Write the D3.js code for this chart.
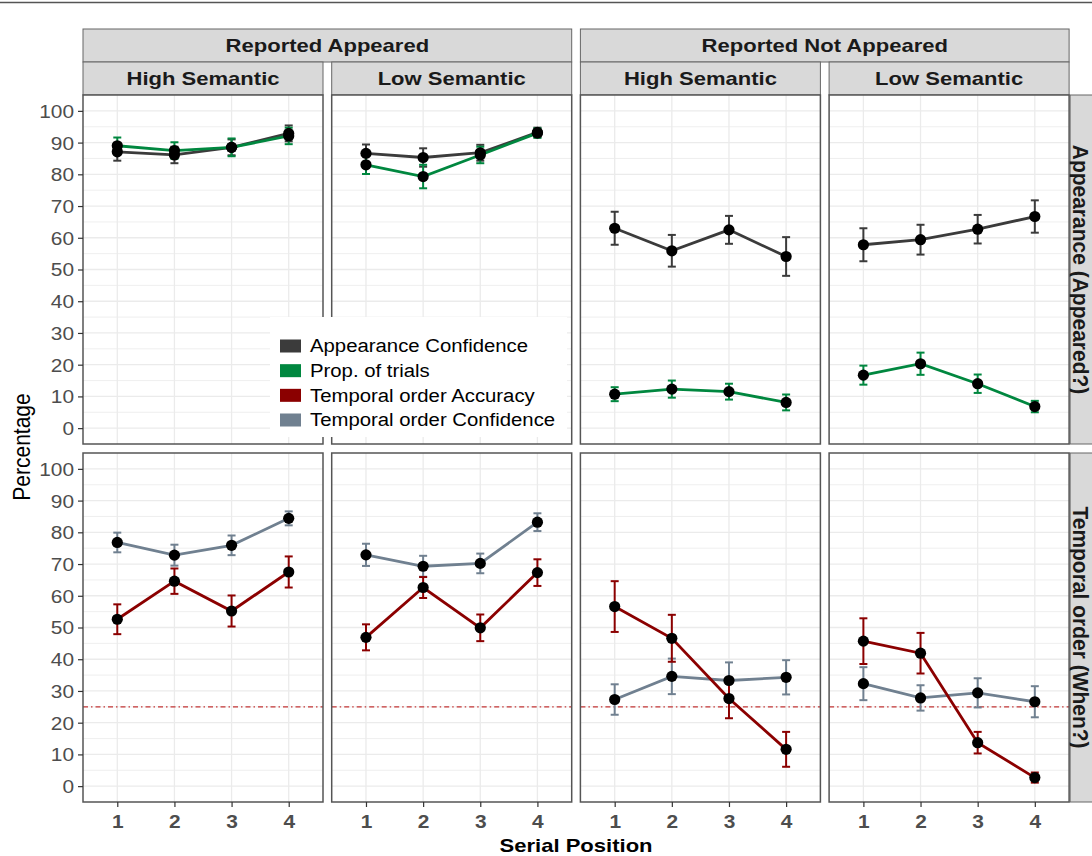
<!DOCTYPE html>
<html>
<head>
<meta charset="utf-8">
<script src="https://cdn.jsdelivr.net/npm/d3@7"></script>
<style>
  body { margin: 0; background: #fff; }
  text { font-family: "Liberation Sans", Arial, sans-serif; }
</style>
</head>
<body>
<div id="chart"></div>
<script>
//////////
// DATA //
//////////

var serialPositions = [1, 2, 3, 4];
var reportGroups = ["Reported Appeared", "Reported Not Appeared"];
var semanticLevels = ["High Semantic", "Low Semantic"];
var measureRows = ["Appearance (Appeared?)", "Temporal order (When?)"];
var yTickValues = [0, 10, 20, 30, 40, 50, 60, 70, 80, 90, 100];
var seriesNames = ["Appearance Confidence", "Prop. of trials", "Temporal order Accuracy", "Temporal order Confidence"];
var seriesColors = ["#3b3b3b", "#00873f", "#8b0000", "#708090"];
var chanceLevel = 25;

// one row of 4 values per facet column: RA-High, RA-Low, RNA-High, RNA-Low
var appConfidence   = [[87.1, 86.1, 88.5, 92.9], [86.6, 85.3, 86.8, 93.2], [63.0, 55.9, 62.5, 54.1], [57.8, 59.4, 62.7, 66.7]];
var appConfidenceSE = [[2.8, 2.6, 2.5, 2.5], [2.8, 2.9, 2.5, 1.5], [5.2, 5.0, 4.4, 6.1], [5.2, 4.7, 4.5, 5.1]];
var propTrials      = [[89.0, 87.5, 88.5, 92.1], [83.0, 79.3, 86.1, 93.0], [10.7, 12.3, 11.5, 8.1], [16.7, 20.3, 14.0, 6.8]];
var propTrialsSE    = [[2.6, 2.6, 2.8, 2.6], [2.9, 3.7, 2.6, 1.5], [2.2, 2.7, 2.5, 2.5], [3.0, 3.5, 2.9, 1.8]];
var orderAccuracy   = [[52.6, 64.6, 55.2, 67.5], [46.9, 62.6, 49.9, 67.3], [56.6, 46.6, 27.6, 11.6], [45.7, 41.9, 13.7, 2.7]];
var orderAccuracySE = [[4.7, 4.0, 4.9, 4.9], [4.1, 3.3, 4.2, 4.2], [8.0, 7.4, 6.2, 5.5], [7.2, 6.4, 3.4, 1.6]];
var orderConfidence   = [[76.8, 72.8, 75.9, 84.4], [72.9, 69.3, 70.2, 83.2], [27.3, 34.6, 33.3, 34.3], [32.3, 27.8, 29.4, 26.6]];
var orderConfidenceSE = [[3.1, 3.3, 3.1, 2.2], [3.5, 3.3, 3.1, 2.8], [4.8, 5.6, 5.7, 5.4], [5.2, 4.0, 4.6, 4.9]];

// drawing order inside each row (later = on top)
var series = [
  { name: seriesNames[0], color: seriesColors[0], row: 0, values: appConfidence, se: appConfidenceSE },
  { name: seriesNames[1], color: seriesColors[1], row: 0, values: propTrials, se: propTrialsSE },
  { name: seriesNames[3], color: seriesColors[3], row: 1, values: orderConfidence, se: orderConfidenceSE },
  { name: seriesNames[2], color: seriesColors[2], row: 1, values: orderAccuracy, se: orderAccuracySE }
];

////////////
// LAYOUT //
////////////

var svgWidth = 1092, svgHeight = 856;
var panelLeft = 83, panelW = 240, colStep = 248.7;
var rowTop = [95, 453], panelH = 349;
var stripH = 33;
var SX = 1.16; // the reference is a bit stretched sideways

var svg = d3.select("#chart").append("svg")
  .attr("width", svgWidth)
  .attr("height", svgHeight);

function place(sel, x, y, rot, sx) {
  sel.attr("transform", "translate(" + x + "," + y + ") scale(" + (sx || SX) + ",1)" + (rot ? " rotate(" + rot + ")" : ""));
  return sel;
}

var x = d3.scalePoint().domain(serialPositions).range([0, panelW]).padding(0.6);
var y = d3.scaleLinear().domain([-5, 105]).range([panelH, 0]);

var colX = function (c) { return panelLeft + c * colStep; };

// thin line along the very top
svg.append("line")
  .attr("x1", 0).attr("x2", svgWidth).attr("y1", 2.5).attr("y2", 2.5)
  .attr("stroke", "#555").attr("stroke-width", 1.5);

////////////
// STRIPS //
////////////

reportGroups.forEach(function (g, gi) {
  var x0 = colX(gi * 2), x1 = colX(gi * 2 + 1) + panelW;
  svg.append("rect")
    .attr("x", x0).attr("y", rowTop[0] - 2 * stripH).attr("width", x1 - x0).attr("height", stripH)
    .attr("fill", "#d9d9d9").attr("stroke", "#666").attr("stroke-width", 1);
  place(svg.append("text"), (x0 + x1) / 2, rowTop[0] - 1.5 * stripH)
    .attr("text-anchor", "middle").attr("dy", "0.36em")
    .style("font-size", "19px").style("font-weight", "bold").attr("fill", "#1a1a1a")
    .text(g);
  semanticLevels.forEach(function (s, si) {
    var cx = colX(gi * 2 + si);
    svg.append("rect")
      .attr("x", cx).attr("y", rowTop[0] - stripH).attr("width", panelW).attr("height", stripH)
      .attr("fill", "#d9d9d9").attr("stroke", "#666").attr("stroke-width", 1);
    place(svg.append("text"), cx + panelW / 2, rowTop[0] - stripH / 2)
      .attr("text-anchor", "middle").attr("dy", "0.36em")
      .style("font-size", "19px").style("font-weight", "bold").attr("fill", "#1a1a1a")
      .text(s);
  });
});

measureRows.forEach(function (m, ri) {
  var sx = colX(3) + panelW + 1;
  svg.append("rect")
    .attr("x", sx).attr("y", rowTop[ri]).attr("width", 40).attr("height", panelH)
    .attr("fill", "#d9d9d9").attr("stroke", "#666").attr("stroke-width", 1);
  place(svg.append("text"), sx + 11, rowTop[ri] + panelH / 2, 90, 1.05)
    .attr("text-anchor", "middle").attr("dy", "0.36em")
    .style("font-size", "21px").style("font-weight", "bold").attr("fill", "#1a1a1a")
    .text(m);
});

////////////
// PANELS //
////////////

var line = d3.line()
  .x(function (d) { return x(d.pos); })
  .y(function (d) { return y(d.v); });

for (var r = 0; r < 2; r++) {
  for (var c = 0; c < 4; c++) {
    var g = svg.append("g").attr("transform", "translate(" + colX(c) + "," + rowTop[r] + ")");

    g.append("rect").attr("width", panelW).attr("height", panelH).attr("fill", "#fff");

    // grid
    g.selectAll(".minor").data(d3.range(5, 100, 10)).enter().append("line")
      .attr("x1", 0).attr("x2", panelW)
      .attr("y1", function (d) { return y(d); }).attr("y2", function (d) { return y(d); })
      .attr("stroke", "#ebebeb").attr("stroke-width", 0.8);
    g.selectAll(".major").data(yTickValues).enter().append("line")
      .attr("x1", 0).attr("x2", panelW)
      .attr("y1", function (d) { return y(d); }).attr("y2", function (d) { return y(d); })
      .attr("stroke", "#ebebeb").attr("stroke-width", 1.3);
    g.selectAll(".vgrid").data(serialPositions).enter().append("line")
      .attr("y1", 0).attr("y2", panelH)
      .attr("x1", function (d) { return x(d); }).attr("x2", function (d) { return x(d); })
      .attr("stroke", "#ebebeb").attr("stroke-width", 1.3);

    if (r === 1) {
      g.append("line")
        .attr("x1", 0).attr("x2", panelW).attr("y1", y(chanceLevel)).attr("y2", y(chanceLevel))
        .attr("stroke", "#c23434").attr("stroke-width", 1.2)
        .attr("stroke-dasharray", "5,3,1.5,3");
    }

    var rowSeries = series.filter(function (s) { return s.row === r; });

    rowSeries.forEach(function (s) {
      var pts = serialPositions.map(function (p, i) {
        return { pos: p, v: s.values[c][i], e: s.se[c][i] };
      });
      g.append("path").datum(pts)
        .attr("d", line).attr("fill", "none")
        .attr("stroke", s.color).attr("stroke-width", 2.8);
      var eb = g.selectAll(null).data(pts).enter().append("g").attr("stroke", s.color).attr("stroke-width", 2);
      eb.append("line")
        .attr("x1", function (d) { return x(d.pos); }).attr("x2", function (d) { return x(d.pos); })
        .attr("y1", function (d) { return y(d.v - d.e); }).attr("y2", function (d) { return y(d.v + d.e); });
      eb.append("line")
        .attr("x1", function (d) { return x(d.pos) - 4; }).attr("x2", function (d) { return x(d.pos) + 4; })
        .attr("y1", function (d) { return y(d.v + d.e); }).attr("y2", function (d) { return y(d.v + d.e); });
      eb.append("line")
        .attr("x1", function (d) { return x(d.pos) - 4; }).attr("x2", function (d) { return x(d.pos) + 4; })
        .attr("y1", function (d) { return y(d.v - d.e); }).attr("y2", function (d) { return y(d.v - d.e); });
    });

    rowSeries.forEach(function (s) {
      g.selectAll(null).data(s.values[c]).enter().append("circle")
        .attr("cx", function (d, i) { return x(serialPositions[i]); })
        .attr("cy", function (d) { return y(d); })
        .attr("r", 5.6).attr("fill", "#000");
    });

    g.append("rect").attr("width", panelW).attr("height", panelH)
      .attr("fill", "none").attr("stroke", "#555").attr("stroke-width", 1.5);

    // axes on the outer panels only
    if (c === 0) {
      var ya = g.append("g").call(d3.axisLeft(y).tickValues(yTickValues).tickSize(5).tickPadding(3));
      ya.select(".domain").remove();
      ya.selectAll(".tick line").attr("stroke", "#333").attr("stroke-width", 1.2);
      ya.selectAll(".tick text")
        .attr("x", null).attr("dy", "0.36em")
        .attr("transform", "translate(-9,0) scale(" + SX + ",1)")
        .style("font-size", "18px").attr("fill", "#4d4d4d")
        .style("font-family", "'Liberation Sans', Arial, sans-serif");
    }
    if (r === 1) {
      var xa = g.append("g").attr("transform", "translate(0," + panelH + ")")
        .call(d3.axisBottom(x).tickSize(5).tickPadding(3));
      xa.select(".domain").remove();
      xa.selectAll(".tick line").attr("stroke", "#333").attr("stroke-width", 1.2);
      xa.selectAll(".tick text")
        .attr("y", null).attr("dy", null)
        .attr("transform", "translate(0,26) scale(" + SX + ",1)")
        .style("font-size", "18px").style("font-weight", "bold").attr("fill", "#4d4d4d")
        .style("font-family", "'Liberation Sans', Arial, sans-serif");
    }
  }
}

/////////////////
// AXIS TITLES //
/////////////////

place(svg.append("text"), 30, 447, -90)
  .attr("text-anchor", "middle")
  .style("font-size", "21px").attr("fill", "#000")
  .text("Percentage");

place(svg.append("text"), (colX(0) + colX(3) + panelW) / 2, 852)
  .attr("text-anchor", "middle")
  .style("font-size", "19px").style("font-weight", "bold").attr("fill", "#000")
  .text("Serial Position");

////////////
// LEGEND //
////////////

var legend = svg.append("g");
legend.append("rect")
  .attr("x", 270).attr("y", 317).attr("width", 297).attr("height", 120)
  .attr("fill", "#fff");

var legendY = d3.scalePoint().domain(seriesNames).range([346, 420]);

var item = legend.selectAll(".item").data(seriesNames).enter().append("g");
item.append("rect")
  .attr("x", 280).attr("y", function (d) { return legendY(d) - 6.5; })
  .attr("width", 21).attr("height", 13)
  .attr("fill", function (d, i) { return seriesColors[i]; });
item.append("text")
  .each(function (d) { place(d3.select(this), 310, legendY(d), 0, 1.13); })
  .attr("dy", "0.36em")
  .style("font-size", "18px").attr("fill", "#000")
  .text(function (d) { return d; });
</script>
</body>
</html>
